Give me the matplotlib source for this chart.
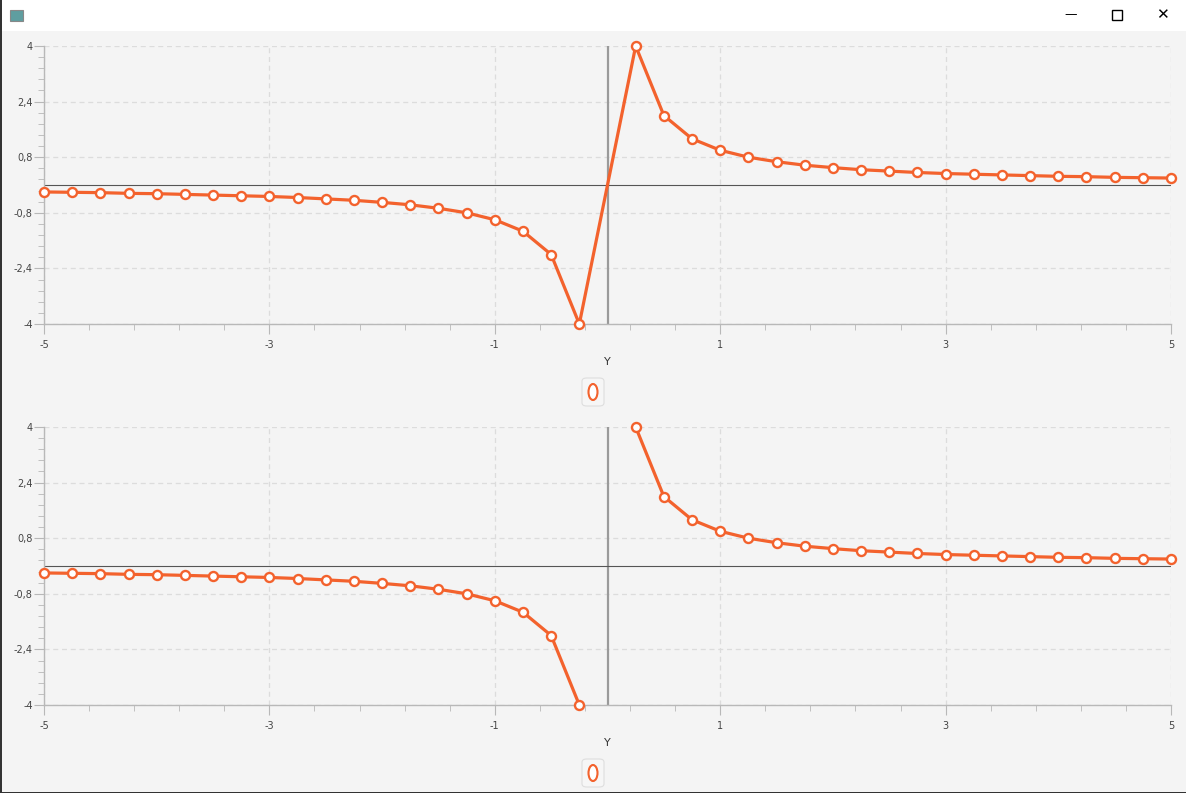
import numpy as np
import matplotlib.pyplot as plt
from matplotlib.patches import Ellipse, FancyBboxPatch, Rectangle
from matplotlib.ticker import FixedLocator, FuncFormatter

# x sample points and the values (y = 1/x shape)
x_neg = [-5, -4.75, -4.5, -4.25, -4, -3.75, -3.5, -3.25, -3, -2.75,
         -2.5, -2.25, -2, -1.75, -1.5, -1.25, -1, -0.75, -0.5, -0.25]
y_neg = [-0.2, -0.21, -0.22, -0.24, -0.25, -0.27, -0.29, -0.31, -0.33, -0.36,
         -0.4, -0.44, -0.5, -0.57, -0.67, -0.8, -1.0, -1.33, -2.0, -4.0]
x_pos = [0.25, 0.5, 0.75, 1, 1.25, 1.5, 1.75, 2, 2.25, 2.5,
         2.75, 3, 3.25, 3.5, 3.75, 4, 4.25, 4.5, 4.75, 5]
y_pos = [4.0, 2.0, 1.33, 1.0, 0.8, 0.67, 0.57, 0.5, 0.44, 0.4,
         0.36, 0.33, 0.31, 0.29, 0.27, 0.25, 0.24, 0.22, 0.21, 0.2]
x_ticks = [-5, -3, -1, 1, 3, 5]
y_ticks = [-4, -2.4, -0.8, 0.8, 2.4, 4]
x_label = "Y"
series_name = "0"

ORANGE = "#f3622d"
BG = "#f4f4f4"

W, H = 1186, 793
fig = plt.figure(figsize=(W / 100, H / 100), dpi=100)
fig.patch.set_facecolor(BG)

# window title bar and border
fig.add_artist(Rectangle((0, 1 - 31 / H), 1, 31 / H, transform=fig.transFigure,
                         facecolor="white", edgecolor="none", zorder=0))
fig.add_artist(Rectangle((0, 0), 2 / W, 1, transform=fig.transFigure,
                         facecolor="#333333", edgecolor="none", zorder=5))
fig.add_artist(Rectangle((0, 0), 1, 1 / H, transform=fig.transFigure,
                         facecolor="#333333", edgecolor="none", zorder=5))
fig.add_artist(Rectangle((10 / W, 1 - 21 / H), 13 / W, 11 / H, transform=fig.transFigure,
                         facecolor="#5f9ea0", edgecolor="#888888", lw=0.8, zorder=5))
fig.text(1071 / W, 1 - 15 / H, "\u2014", fontsize=9, ha="center", va="center", color="black")
fig.add_artist(Rectangle((1112 / W, 1 - 20 / H), 10 / W, 10 / H, transform=fig.transFigure,
                         facecolor="none", edgecolor="black", lw=1.0, zorder=5))
fig.text(1162 / W, 1 - 15 / H, "\u2715", fontsize=11, ha="center", va="center", color="black",
         family=["DejaVu Sans"])


def comma_fmt(v, pos):
    s = f"{v:.1f}".rstrip("0").rstrip(".")
    if s == "-0":
        s = "0"
    return s.replace(".", ",")


def make_chart(top_px, bottom_px, connect):
    left, right = 44, 1171
    ax = fig.add_axes([left / W, 1 - bottom_px / H, (right - left) / W, (bottom_px - top_px) / H])
    ax.set_facecolor(BG)
    ax.set_xlim(-5, 5)
    ax.set_ylim(-4, 4)
    ax.xaxis.set_major_locator(FixedLocator(x_ticks))
    ax.xaxis.set_minor_locator(FixedLocator(np.linspace(-5, 5, 26)))
    ax.yaxis.set_major_locator(FixedLocator(y_ticks))
    ax.yaxis.set_minor_locator(FixedLocator(np.linspace(-4, 4, 26)))
    ax.xaxis.set_major_formatter(FuncFormatter(comma_fmt))
    ax.yaxis.set_major_formatter(FuncFormatter(comma_fmt))
    ax.grid(True, which="major", color="#dcdcdc", linestyle=(0, (4, 3)), linewidth=0.9)
    ax.set_axisbelow(True)
    for s in ["top", "right"]:
        ax.spines[s].set_visible(False)
    for s in ["bottom", "left"]:
        ax.spines[s].set_color("#b8b8b8")
        ax.spines[s].set_linewidth(1.0)
    ax.tick_params(which="major", length=7, color="#b8b8b8", labelsize=7, labelcolor="#444444")
    ax.tick_params(which="minor", length=4, color="#b8b8b8")
    ax.tick_params(axis="x", which="major", pad=4.5)
    ax.tick_params(axis="y", which="major", pad=1)
    ax.set_xlabel(x_label, fontsize=8, color="#333333", labelpad=5)

    ax.axvline(0, color="#9a9a9a", lw=1.6, zorder=1)
    ax.axhline(0, color="#555555", lw=0.8, zorder=1)

    style = dict(color=ORANGE, lw=2.3, marker="o", markersize=6.5,
                 markerfacecolor="white", markeredgecolor=ORANGE, markeredgewidth=1.7,
                 clip_on=False, zorder=3)
    if connect:
        ax.plot(x_neg + x_pos, y_neg + y_pos, **style)
    else:
        ax.plot(x_neg, y_neg, **style)
        ax.plot(x_pos, y_pos, **style)

    # legend box with stretched symbol
    cx, cy = 593, bottom_px + 68
    fig.add_artist(FancyBboxPatch(((cx - 11) / W, 1 - (cy + 14) / H), 22 / W, 28 / H,
                                  boxstyle="round,pad=0,rounding_size=0.004",
                                  transform=fig.transFigure, facecolor="#f6f6f6",
                                  edgecolor="#dedede", lw=0.8, zorder=4))
    fig.add_artist(Ellipse((cx / W, 1 - cy / H), 9 / W, 16 / H, transform=fig.transFigure,
                           facecolor="white", edgecolor=ORANGE, lw=1.5, zorder=5,
                           label=series_name))
    return ax


make_chart(46, 324, connect=True)
make_chart(427, 705, connect=False)

fig.savefig("out.png", dpi=100, facecolor=fig.get_facecolor())
